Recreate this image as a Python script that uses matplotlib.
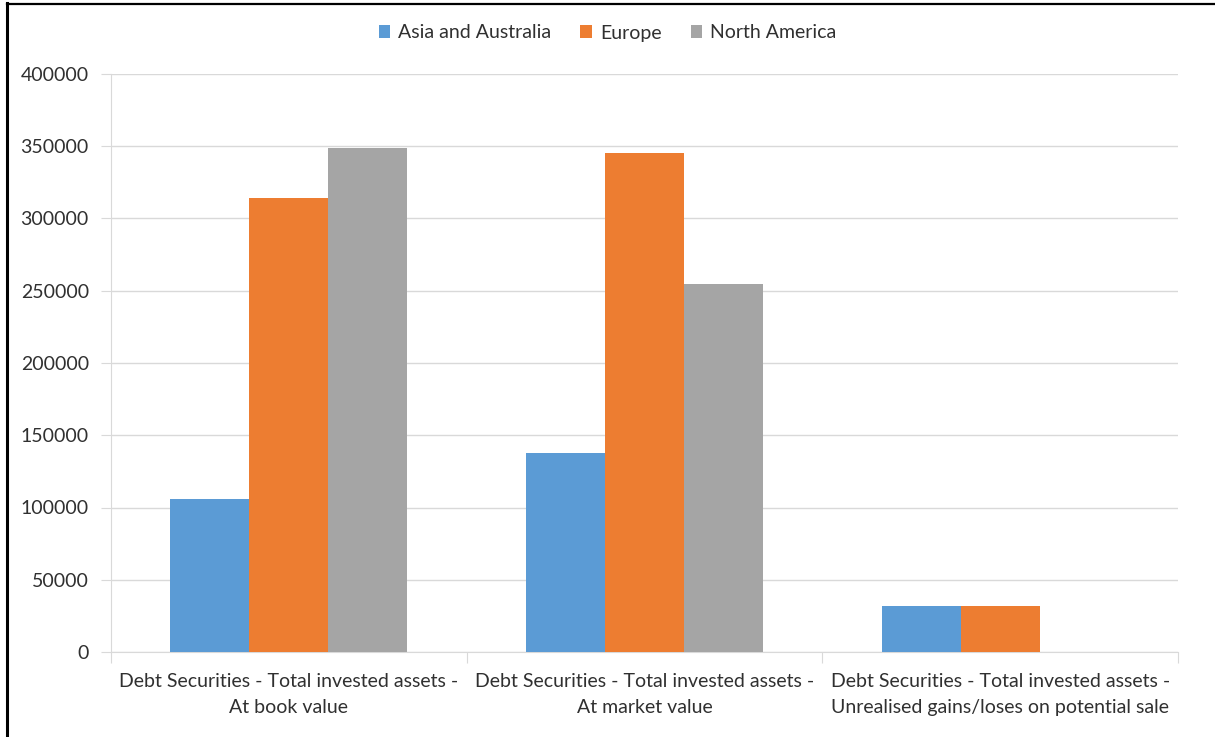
import matplotlib
matplotlib.use('Agg')
import matplotlib.pyplot as plt
from matplotlib.lines import Line2D
import numpy as np

# ── Data ───────────────────────────────────────────────────────────
categories = [
    'Debt Securities - Total invested assets -\nAt book value',
    'Debt Securities - Total invested assets -\nAt market value',
    'Debt Securities - Total invested assets -\nUnrealised gains/loses on potential sale',
]
series_names = ['Asia and Australia', 'Europe', 'North America']
asia = [106000, 138000, 32000]
europe = [314000, 345000, 32000]
north_america = [349000, 255000, 0]
yticks = [0, 50000, 100000, 150000, 200000, 250000, 300000, 350000, 400000]

colors = ['#5B9BD5', '#ED7D31', '#A5A5A5']
text_color = '#303030'
grid_color = '#D9D9D9'

plt.rcParams['font.family'] = ['Lato', 'DejaVu Sans']

fig = plt.figure(figsize=(12.15, 7.37), dpi=100)
ax = fig.add_axes([111 / 1215, 1 - 652 / 737, (1178 - 111) / 1215, (652 - 74) / 737])

x = np.arange(len(categories))
w = 0.222
for i, (vals, name) in enumerate(zip([asia, europe, north_america], series_names)):
    ax.bar(x + (i - 1) * w, vals, width=w, color=colors[i], label=name, zorder=3)

ax.set_xlim(-0.5, len(categories) - 0.5)
ax.set_ylim(0, 400000)
ax.set_yticks(yticks)
ax.set_yticklabels([str(v) for v in yticks], fontsize=14, color=text_color)
ax.yaxis.grid(True, color=grid_color, linewidth=1, zorder=0)
ax.tick_params(axis='y', length=7, color=grid_color, pad=9)

# category labels at centres, ticks at boundaries
ax.set_xticks(np.arange(len(categories) + 1) - 0.5)
ax.set_xticklabels([])
ax.tick_params(axis='x', length=8, color=grid_color)
for xi, lab in zip(x, categories):
    ax.text(xi, -0.037, lab, transform=ax.get_xaxis_transform(), ha='center', va='top',
            fontsize=14, color=text_color, linespacing=1.6)

for side in ['top', 'right']:
    ax.spines[side].set_visible(False)
ax.spines['left'].set_color(grid_color)
ax.spines['bottom'].set_color(grid_color)

fig.legend(loc='center', bbox_to_anchor=(0.5, 1 - 33 / 737), ncol=3, frameon=False,
           fontsize=14, handlelength=0.6, handleheight=0.6, handletextpad=0.4,
           columnspacing=1.5, labelcolor=text_color)

# outer frame (left and top edges visible)
fig.add_artist(Line2D([7 / 1215, 7 / 1215], [0, 1 - 3 / 737], color='black', linewidth=2.2,
                      transform=fig.transFigure))
fig.add_artist(Line2D([7 / 1215, 1], [1 - 4 / 737, 1 - 4 / 737], color='black', linewidth=1.6,
                      transform=fig.transFigure))

plt.savefig('out.png', dpi=100)
plt.close()
